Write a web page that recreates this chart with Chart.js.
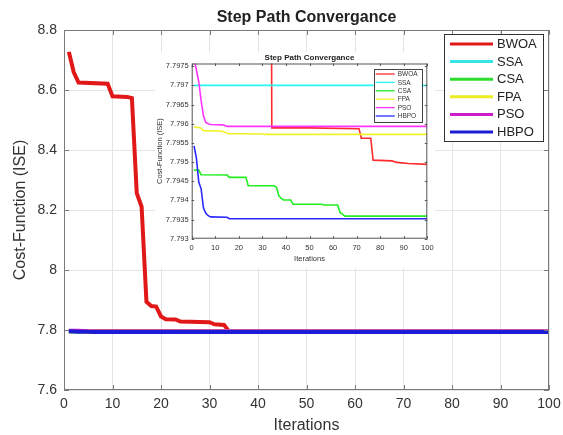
<!DOCTYPE html>
<html>
<head>
<meta charset="utf-8">
<script src="https://cdn.jsdelivr.net/npm/chart.js@4.4.0/dist/chart.umd.min.js"></script>
<style>
  html, body { margin: 0; padding: 0; background: #fff; }
  #wrap { position: relative; width: 563px; height: 435px; }
  #main { position: absolute; left: 0; top: 0; width: 563px; height: 435px; }
  #inset { position: absolute; left: 155px; top: 52px; width: 280px; height: 216px; background: #fff; }
</style>
</head>
<body>
<div id="wrap">
  <div id="main"><canvas id="mainChart"></canvas></div>
  <div id="inset"><canvas id="insetChart"></canvas></div>
</div>
<script>
// axis ticks
const iterTicks = [0, 10, 20, 30, 40, 50, 60, 70, 80, 90, 100];
const mainYTicks = [7.6, 7.8, 8, 8.2, 8.4, 8.6, 8.8];
const insetYTicks = [7.793, 7.7935, 7.794, 7.7945, 7.795, 7.7955, 7.796, 7.7965, 7.797, 7.7975];

const seriesNames = ['BWOA', 'SSA', 'CSA', 'FPA', 'PSO', 'HBPO'];
const mainColors = ['#e01818', '#36e6e6', '#2edc2e', '#ecec22', '#cc1ccc', '#1c1cd6'];
const insetColors = ['#ff2a2a', '#2af5f5', '#22ee22', '#f2f22a', '#ff33ff', '#2a2aff'];

// iteration / cost pairs (break points of each curve)
const bwoaIter = [1, 2, 3, 9, 10, 13, 14, 15, 16, 17, 18, 19, 20, 21, 23, 24, 30, 31, 33, 34, 50, 71, 72, 76, 77, 85, 87, 92, 100];
const bwoaCost = [8.727, 8.66, 8.625, 8.621, 8.579, 8.577, 8.573, 8.256, 8.211, 7.894, 7.88, 7.878, 7.845, 7.836, 7.835, 7.828, 7.826, 7.819, 7.817,
                  7.79589, 7.79589, 7.79587, 7.79562, 7.79562, 7.79505, 7.79503, 7.79499, 7.79496, 7.79494];
const ssaIter = [1, 100];
const ssaCost = [7.797, 7.797];
const csaIter = [1, 3, 4, 15, 16, 23, 24, 35, 36, 37, 38, 39, 42, 43, 55, 56, 62, 63, 64, 65, 100];
const csaCost = [7.79479, 7.79479, 7.79467, 7.79466, 7.7946, 7.7946, 7.79438, 7.79438, 7.79434, 7.79412, 7.79405, 7.79401, 7.79401,
                 7.7939, 7.7939, 7.79388, 7.79388, 7.79368, 7.79364, 7.79359, 7.79359];
const fpaIter = [1, 3, 4, 5, 12, 13, 15, 16, 30, 31, 100];
const fpaCost = [7.79591, 7.7959, 7.79588, 7.79582, 7.79581, 7.7958, 7.79575, 7.79574, 7.79573, 7.79572, 7.79572];
const psoIter = [1, 2, 3, 4, 5, 6, 7, 8, 13, 14, 15, 100];
const psoCost = [7.7977, 7.7974, 7.7971, 7.7966, 7.7962, 7.79603, 7.796, 7.79598, 7.79597, 7.79595, 7.79593, 7.79593];
const hbpoIter = [1, 2, 3, 4, 5, 6, 7, 8, 15, 16, 100];
const hbpoCost = [7.79542, 7.7951, 7.79448, 7.7943, 7.7938, 7.79366, 7.7936, 7.79357, 7.79356, 7.79352, 7.79352];

const seriesIter = [bwoaIter, ssaIter, csaIter, fpaIter, psoIter, hbpoIter];
const seriesCost = [bwoaCost, ssaCost, csaCost, fpaCost, psoCost, hbpoCost];

Chart.defaults.font.family = "'Liberation Sans', Arial, sans-serif";
Chart.defaults.animation = false;

function makeDatasets(colors, width) {
  return seriesNames.map((name, i) => ({
    label: name,
    data: seriesIter[i].map((x, j) => ({ x: x, y: seriesCost[i][j] })),
    borderColor: colors[i],
    backgroundColor: colors[i],
    borderWidth: width,
    pointRadius: 0,
    tension: 0,
    fill: false,
    clip: 0,
    order: seriesNames.length - i   // HBPO drawn last (on top)
  }));
}

const fmt = v => String(parseFloat(v.toFixed(5)));

// box, inward ticks, title and legend in the MATLAB look
function framePlugin(cfg) {
  return {
    id: 'frame',
    afterDraw(chart) {
      const ctx = chart.ctx, a = chart.chartArea;
      const xs = chart.scales.x, ys = chart.scales.y;
      ctx.save();
      ctx.strokeStyle = cfg.boxColor;
      ctx.lineWidth = 1;
      ctx.strokeRect(a.left + 0.5, a.top + 0.5, a.right - a.left - 1, a.bottom - a.top - 1);
      ctx.beginPath();
      xs.ticks.forEach(t => {
        const px = Math.round(xs.getPixelForValue(t.value)) + 0.5;
        ctx.moveTo(px, a.bottom); ctx.lineTo(px, a.bottom - cfg.tickLen);
        ctx.moveTo(px, a.top); ctx.lineTo(px, a.top + cfg.tickLen);
      });
      ys.ticks.forEach(t => {
        const py = Math.round(ys.getPixelForValue(t.value)) + 0.5;
        ctx.moveTo(a.left, py); ctx.lineTo(a.left + cfg.tickLen, py);
        ctx.moveTo(a.right, py); ctx.lineTo(a.right - cfg.tickLen, py);
      });
      ctx.stroke();

      // title
      ctx.fillStyle = '#222';
      ctx.font = cfg.titleFont;
      ctx.textAlign = 'center';
      ctx.textBaseline = 'middle';
      ctx.fillText(cfg.title, (a.left + a.right) / 2, a.top - cfg.titleGap);

      // legend
      const L = cfg.legend;
      const bx = a.right - L.right - L.w, by = a.top + L.top;
      ctx.fillStyle = '#fff';
      ctx.fillRect(bx, by, L.w, L.h);
      ctx.strokeStyle = L.border;
      ctx.lineWidth = 1;
      ctx.strokeRect(Math.round(bx) + 0.5, Math.round(by) + 0.5, L.w, L.h);
      ctx.font = L.font;
      ctx.textAlign = 'left';
      chart.data.datasets.forEach((ds, i) => {
        const y = by + L.first + i * L.rowH;
        ctx.strokeStyle = ds.borderColor;
        ctx.lineWidth = L.lineWidth;
        ctx.beginPath();
        ctx.moveTo(bx + L.x0, y); ctx.lineTo(bx + L.x1, y);
        ctx.stroke();
        ctx.fillStyle = L.textColor;
        ctx.fillText(ds.label, bx + L.tx, y + 0.5);
      });
      ctx.restore();
    }
  };
}

function axis(ticks, min, max, tickFont, tickPad, titleText, titleFont, titlePad, grid) {
  return {
    type: 'linear', min: min, max: max,
    afterBuildTicks: s => { s.ticks = ticks.map(v => ({ value: v })); },
    grid: grid ? { color: '#e4e4e4', drawTicks: false } : { display: false, drawTicks: false },
    border: { display: false },
    ticks: { padding: tickPad, color: '#333', font: { size: tickFont }, autoSkip: false, maxRotation: 0, callback: fmt },
    title: { display: true, text: titleText, color: '#333', font: { size: titleFont }, padding: titlePad }
  };
}

// fixed axis sizes; drop the label overhang so layout padding alone sets the plot box
function fixSize(scale, w, h) {
  if (w) scale.width = w;
  if (h) scale.height = h;
  scale.paddingLeft = 0; scale.paddingRight = 0;
  scale.paddingTop = 0; scale.paddingBottom = 0;
}

// main chart
const mainX = axis(iterTicks, 0, 100, 14, 6, 'Iterations', 16, { top: 0, bottom: 0 }, true);
mainX.afterFit = s => fixSize(s, 0, 45);
const mainY = axis(mainYTicks, 7.6, 8.8, 14, 7, 'Cost-Function (ISE)', 16, { top: 11, bottom: 0 }, true);
mainY.afterFit = s => fixSize(s, 64, 0);

new Chart(document.getElementById('mainChart'), {
  type: 'line',
  data: { datasets: makeDatasets(mainColors, 4) },
  options: {
    responsive: true,
    maintainAspectRatio: false,
    layout: { padding: { left: 0, right: 14, top: 30, bottom: 0 } },
    plugins: { legend: { display: false }, tooltip: { enabled: false }, title: { display: false } },
    scales: { x: mainX, y: mainY }
  },
  plugins: [framePlugin({
    boxColor: '#7a7a7a', tickLen: 5, title: 'Step Path Convergance', titleFont: 'bold 16px "Liberation Sans", Arial', titleGap: 12,
    legend: { w: 99, h: 107, right: 6, top: 4, first: 10, rowH: 17.6, x0: 6, x1: 49, tx: 53, lineWidth: 3,
              font: '13px "Liberation Sans", Arial', border: '#333', textColor: '#222' }
  })]
});

// inset chart
const insetX = axis(iterTicks, 0, 100, 7.5, 5, 'Iterations', 7.5, { top: 0, bottom: 5 }, false);
insetX.afterFit = s => fixSize(s, 0, 29.3);
const insetY = axis(insetYTicks, 7.793, 7.79757, 7.5, 3, 'Cost-Function (ISE)', 7.5, { top: 0, bottom: 0 }, false);
insetY.afterFit = s => fixSize(s, 36.7, 0);

new Chart(document.getElementById('insetChart'), {
  type: 'line',
  data: { datasets: makeDatasets(insetColors, 1.6) },
  options: {
    responsive: true,
    maintainAspectRatio: false,
    layout: { padding: { left: 0, right: 7.7, top: 11.5, bottom: 0 } },
    plugins: { legend: { display: false }, tooltip: { enabled: false }, title: { display: false } },
    scales: { x: insetX, y: insetY }
  },
  plugins: [framePlugin({
    boxColor: '#555', tickLen: 2.5, title: 'Step Path Convergance', titleFont: 'bold 8px "Liberation Sans", Arial', titleGap: 6,
    legend: { w: 48, h: 53, right: 5.6, top: 5.5, first: 5, rowH: 8.4, x0: 2, x1: 21, tx: 24, lineWidth: 1.3,
              font: '6.5px "Liberation Sans", Arial', border: '#444', textColor: '#333' }
  })]
});
</script>
</body>
</html>
